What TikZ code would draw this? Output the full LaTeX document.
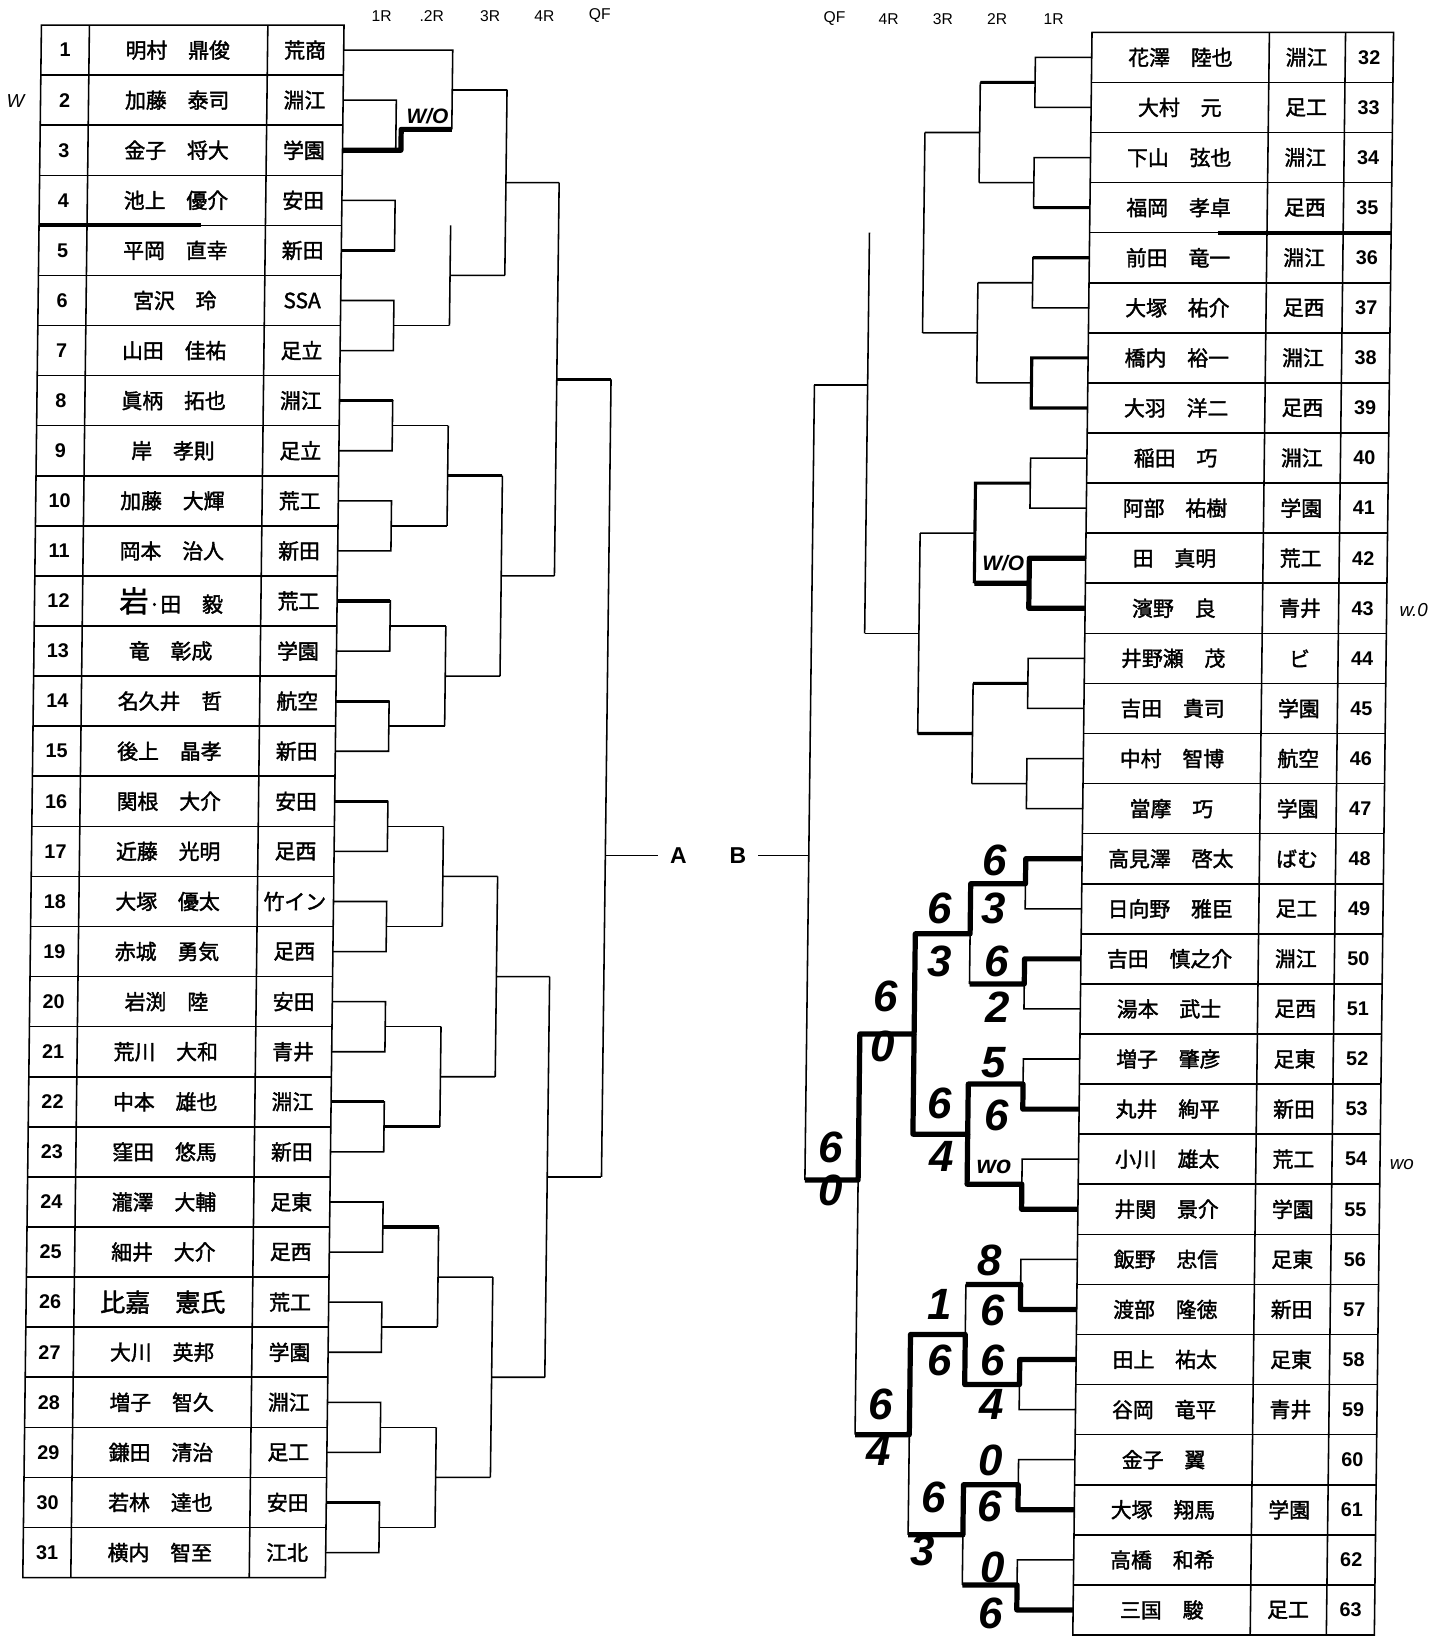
\documentclass[tikz,border=0pt]{standalone}
\usepackage{fontspec}
\setmainfont{Liberation Sans}
\newfontfamily\jp{Noto Sans CJK JP}[FakeBold=1.8]
\tikzset{
  bline/.style={line width=1.5pt},
  semib/.style={line width=3pt},
  winline/.style={line width=5pt, line join=round},
  numtxt/.style={font=\bfseries\fontsize{19}{19}\selectfont},
  nametxt/.style={font=\jp\fontsize{20}{20}\selectfont},
  roundlbl/.style={font=\fontsize{15}{15}\selectfont},
  score/.style={font=\bfseries\itshape\fontsize{42}{42}\selectfont},
  handnote/.style={font=\bfseries\itshape\fontsize{20}{20}\selectfont}
}
\begin{document}
\begin{tikzpicture}[x=1pt,y=-1pt]
\useasboundingbox (0,0) rectangle (1381,1568);
\begin{scope}[xslant=0.012]
  % round headers
  \foreach \x/\t [count=\c] in {366/1R,414/.2R,470/3R,522/4R,575/QF}
    \node[roundlbl] (hl\c) at (\x,15) {\t};
  \foreach \x/\t [count=\c] in {800/QF,852/4R,904/3R,956/2R,1010/1R}
    \node[roundlbl] (hr\c) at (\x,18) {\t};

  % left table
  \draw[bline] (40,24) rectangle (330,1512);
  \foreach \k in {1,...,30} \draw[bline] (40,24+48*\k) -- (330,24+48*\k);
  \draw[bline] (86,24) -- (86,1512);
  \draw[bline] (257,24) -- (257,1512);
  \draw[line width=4pt] (40,216) -- (195,216);
  \foreach \i/\nm/\sc in {1/明村　鼎俊/荒商, 2/加藤　泰司/淵江, 3/金子　将大/学園,
      4/池上　優介/安田, 5/平岡　直幸/新田, 6/宮沢　玲/SSA, 7/山田　佳祐/足立,
      8/眞柄　拓也/淵江, 9/岸　孝則/足立, 10/加藤　大輝/荒工, 11/岡本　治人/新田,
      12/{{\fontsize{28}{28}\selectfont 岩}·田　毅}/荒工, 13/竜　彰成/学園,
      14/名久井　哲/航空, 15/後上　晶孝/新田, 16/関根　大介/安田, 17/近藤　光明/足西,
      18/大塚　優太/竹イン, 19/赤城　勇気/足西, 20/岩渕　陸/安田, 21/荒川　大和/青井,
      22/中本　雄也/淵江, 23/窪田　悠馬/新田, 24/瀧澤　大輔/足東, 25/細井　大介/足西,
      26/{{\fontsize{24}{24}\selectfont 比嘉　憲氏}}/荒工, 27/大川　英邦/学園,
      28/増子　智久/淵江, 29/鎌田　清治/足工, 30/若林　達也/安田, 31/横内　智至/江北} {
    \node[numtxt] (n\i) at (63,48*\i) {\i};
    \node[nametxt] (nm\i) at (171,48*\i) {\nm};
    \node[nametxt] (sc\i) at (293,48*\i) {\sc};
  }

  % right table
  \draw[bline] (1047,1568) -- (1047,31) -- (1336,31) -- (1336,1568);
  \foreach \k in {1,...,32} \draw[bline] (1047,31+48*\k) -- (1336,31+48*\k);
  \draw[bline] (1217,31) -- (1217,1568);
  \draw[bline] (1290,31) -- (1290,1568);
  \draw[line width=4pt] (1170,223) -- (1336,223);
  \foreach \i/\nm/\sc in {32/花澤　陸也/淵江, 33/大村　元/足工, 34/下山　弦也/淵江,
      35/福岡　孝卓/足西, 36/前田　竜一/淵江, 37/大塚　祐介/足西, 38/橋内　裕一/淵江,
      39/大羽　洋二/足西, 40/稲田　巧/淵江, 41/阿部　祐樹/学園, 42/田　真明/荒工,
      43/濱野　良/青井, 44/井野瀬　茂/ビ, 45/吉田　貴司/学園, 46/中村　智博/航空,
      47/當摩　巧/学園, 48/高見澤　啓太/ばむ, 49/日向野　雅臣/足工, 50/吉田　慎之介/淵江,
      51/湯本　武士/足西, 52/増子　肇彦/足東, 53/丸井　絢平/新田, 54/小川　雄太/荒工,
      55/井関　景介/学園, 56/飯野　忠信/足東, 57/渡部　隆徳/新田, 58/田上　祐太/足東,
      59/谷岡　竜平/青井, 60/金子　翼/{}, 61/大塚　翔馬/学園, 62/高橋　和希/{},
      63/三国　駿/足工} {
    \node[nametxt] (nm\i) at (1132,48*\i-1481) {\nm};
    \node[nametxt] (sc\i) at (1253,48*\i-1481) {\sc};
    \node[numtxt] (n\i) at (1313,48*\i-1481) {\i};
  }

  % left bracket
  \draw[bline] (330,48) -- (434.5,48) -- (434.5,124);
  \foreach \a in {2,4,...,30}
    \draw[bline] (330,48*\a) -- (381,48*\a) -- (381,48*\a+48) -- (330,48*\a+48);
  \foreach \a in {6,8,...,30}
    \draw[bline] (381,48*\a+24) -- (434.5,48*\a+24);
  \draw[bline] (434.5,86) -- (487,86);
  \foreach \t in {216,408,600,792,984,1176,1368}
    \draw[bline] (434.5,\t) -- (434.5,\t+96) (434.5,\t+48) -- (487,\t+48);
  \foreach \t/\b in {86/264,456/648,840/1032,1224/1416}
    \draw[bline] (487,\t) -- (487,\b) (487,{(\t+\b)/2}) -- (538,{(\t+\b)/2});
  \draw[bline] (538,175) -- (538,552) (538,936) -- (538,1320);
  \draw[bline] (538,363.5) -- (590,363.5) (538,1128) -- (590,1128);
  \draw[bline] (590,363.5) -- (590,1128);
  \node[font=\bfseries\fontsize{22}{22}\selectfont] (A) at (660,820) {A};
  \draw[bline] (590,820) -- ([xshift=-8pt]A.west);
  % left winners
  \draw[winline] (330,144) -- (386,144) -- (386,124) -- (434.5,124);
  \draw[semib] (330,240) -- (381,240) (330,384) -- (381,384) (434.5,456) -- (487,456)
    (330,576) -- (381,576) (330,672) -- (381,672) (330,768) -- (381,768)
    (330,1056) -- (381,1056) (381,1080) -- (434.5,1080) (381,1176) -- (434.5,1176)
    (330,1440) -- (381,1440) (538,363.5) -- (590,363.5);

  % right bracket
  \foreach \r in {32,34,...,62}
    \draw[bline] (1047,48*\r-1481) -- (993,48*\r-1481) -- (993,48*\r-1433) -- (1047,48*\r-1433)
      (993,48*\r-1457) -- (940.5,48*\r-1457);
  \foreach \t in {79,271,463,655,847,1039,1231,1423}
    \draw[bline] (940.5,\t) -- (940.5,\t+96) (940.5,\t+48) -- (888,\t+48);
  \foreach \t in {127,511,895,1279}
    \draw[bline] (888,\t) -- (888,\t+192);
  \draw[bline] (888,607) -- (836,607) (888,991) -- (836,991) (888,1375) -- (836,1375);
  \draw[bline] (836,223) -- (836,607) (836,991) -- (836,1375);
  \draw[bline] (836,369) -- (785,369) (836,1131) -- (785,1131);
  \draw[bline] (785,369) -- (785,1131);
  \node[font=\bfseries\fontsize{22}{22}\selectfont] (B) at (717,820) {B};
  \draw[bline] ([xshift=8pt]B.east) -- (785,820);
  % right winners
  \draw[semib] (993,79) -- (940.5,79) (1047,199) -- (993,199) (1047,247) -- (993,247)
    (1047,343) -- (993,343) -- (993,391) -- (1047,391) (993,655) -- (940.5,655)
    (940.5,703) -- (888,703) (993,463) -- (940.5,463) -- (940.5,559);
  \draw[winline] (1047,535) -- (993,535) -- (993,583) -- (1047,583) (993,559) -- (940.5,559);
  \draw[winline] (1047,823) -- (993,823) -- (993,847) -- (940.5,847) -- (940.5,895)
    -- (888,895) -- (888,991) -- (836,991) -- (836,1131) -- (785,1131);
  \draw[winline] (1047,919) -- (993,919) -- (993,943) -- (940.5,943);
  \draw[winline] (1047,1063) -- (993,1063) -- (993,1039) -- (940.5,1039) -- (940.5,1087)
    -- (888,1087) -- (888,991);
  \draw[winline] (1047,1159) -- (993,1159) -- (993,1135) -- (940.5,1135) -- (940.5,1087);
  \draw[winline] (1047,1255) -- (993,1255) -- (993,1231) -- (940.5,1231);
  \draw[winline] (1047,1303) -- (993,1303) -- (993,1327) -- (940.5,1327) -- (940.5,1279)
    -- (888,1279) -- (888,1375) -- (836,1375);
  \draw[winline] (1047,1447) -- (993,1447) -- (993,1423) -- (940.5,1423) -- (940.5,1471)
    -- (888,1471);
  \draw[winline] (1047,1543) -- (993,1543) -- (993,1519) -- (940.5,1519);

  % scores
  \foreach \x/\y/\t [count=\c] in {963/825/6, 963/871/3, 911/871/6, 912/921/3, 966/921/6,
      968/965/2, 860/955/6, 858/1003/0, 809/1100/6, 810/1141/0, 965/1018/5, 968/1069/6,
      913/1058/6, 916/1108/4, 963/1208/8, 966/1256/6, 916/1250/1, 916/1304/6, 967/1304/6,
      967/1346/4, 860/1346/6, 859/1390/4, 966/1400/0, 966/1444/6, 912/1435/6, 902/1486/3,
      969/1502/0, 968/1546/6}
    \node[score] (s\c) at (\x,\y) {\t};
  \node[handnote, font=\bfseries\itshape\fontsize{24}{24}\selectfont] (wo1) at (966,1118) {wo};
  \node[handnote] (wo2) at (411,111) {W/O};
  \node[handnote] (wo3) at (968,540) {W/O};
  \node[handnote, font=\itshape\fontsize{18}{18}\selectfont] (wo4) at (16,97) {W};
  \node[handnote, font=\itshape\fontsize{18}{18}\selectfont] (wo5) at (1362,585) {w.0};
  \node[handnote, font=\itshape\fontsize{18}{18}\selectfont] (wo6) at (1357,1116) {wo};
\end{scope}
\end{tikzpicture}
\end{document}
